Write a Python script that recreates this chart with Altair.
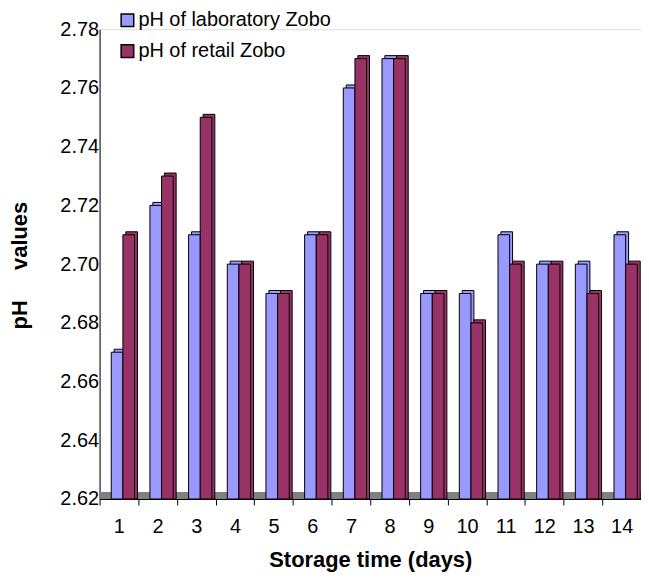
import altair as alt
import pandas as pd

days = list(range(1, 15))
lab = [2.67, 2.72, 2.71, 2.70, 2.69, 2.71, 2.76, 2.77, 2.69, 2.69, 2.71, 2.70, 2.70, 2.71]
retail = [2.71, 2.73, 2.75, 2.70, 2.69, 2.71, 2.77, 2.77, 2.69, 2.68, 2.70, 2.70, 2.69, 2.70]
series_names = ["pH of laboratory Zobo", "pH of retail Zobo"]
colors = ["#9999FF", "#993366"]
y_ticks = [2.62, 2.64, 2.66, 2.68, 2.70, 2.72, 2.74, 2.76, 2.78]

rows = []
for d, a, b in zip(days, lab, retail):
    rows.append({"day": d, "series": series_names[0], "ph": a})
    rows.append({"day": d, "series": series_names[1], "ph": b})
df = pd.DataFrame(rows)

FONT = "Liberation Sans"
W, H = 544, 472

x_enc = alt.X("day:O", title="Storage time (days)",
              scale=alt.Scale(paddingInner=0, paddingOuter=0),
              axis=alt.Axis(labelAngle=0, labelFontSize=20, labelFont=FONT, labelColor="black",
                            tickBand="extent", tickSize=6, tickColor="black", domainColor="black",
                            labelPadding=12, titleFont=FONT, titleFontSize=22, titleFontWeight="bold",
                            titleColor="black", titleBaseline="top", titleY=51, titleX=272,
                            titleAnchor="middle"))
y_enc = alt.Y("ph:Q", title="pH\u00a0\u00a0\u00a0\u00a0\u00a0values",
              scale=alt.Scale(domain=[2.62, 2.78], zero=False, nice=False),
              axis=alt.Axis(values=y_ticks, format=".2f", ticks=False, grid=False,
                            labelFontSize=20, labelFont=FONT, labelColor="black", labelPadding=1,
                            domainColor="black", titleFont=FONT, titleFontSize=22,
                            titleFontWeight="bold", titleColor="black", titleAngle=-90,
                            titleBaseline="middle", titleAlign="center", titleX=-80, titleY=237))
color_enc = alt.Color("series:N", sort=series_names,
                      scale=alt.Scale(domain=series_names, range=colors),
                      legend=alt.Legend(title=None, orient="none", legendX=18, legendY=-19,
                                        symbolType="square", symbolSize=160,
                                        symbolStrokeColor="black", symbolStrokeWidth=1.5,
                                        labelFont=FONT, labelFontSize=20, labelColor="black",
                                        labelLimit=400, rowPadding=11, labelOffset=1,
                                        symbolOpacity=1))

base = alt.Chart(df)

floor = base.mark_rect(color="#808080").encode(
    x=alt.value(0), x2=alt.value("width"), y=alt.datum(2.62), y2=alt.datum(2.6222))

back = base.mark_bar(stroke="black", strokeWidth=1, yOffset=-3, opacity=1).encode(
    x=x_enc,
    xOffset=alt.XOffset("series:N", sort=series_names,
                        scale=alt.Scale(paddingInner=0, paddingOuter=0.66, align=0.95)),
    y=y_enc, y2=alt.datum(2.62), color=color_enc)
front = base.mark_bar(stroke="black", strokeWidth=1, opacity=1).encode(
    x=x_enc,
    xOffset=alt.XOffset("series:N", sort=series_names,
                        scale=alt.Scale(paddingInner=0, paddingOuter=0.66, align=0.76)),
    y=y_enc, y2=alt.datum(2.62), color=color_enc)

chart = alt.layer(floor, back, front).resolve_scale(xOffset="independent").properties(
    width=W, height=H,
    autosize=alt.AutoSizeParams(type="none"),
    padding={"left": 92, "top": 20, "right": 0, "bottom": 73},
).configure_view(strokeWidth=0).configure(background="white")

chart.save("out.html", embed_options={"renderer": "svg", "actions": False})
